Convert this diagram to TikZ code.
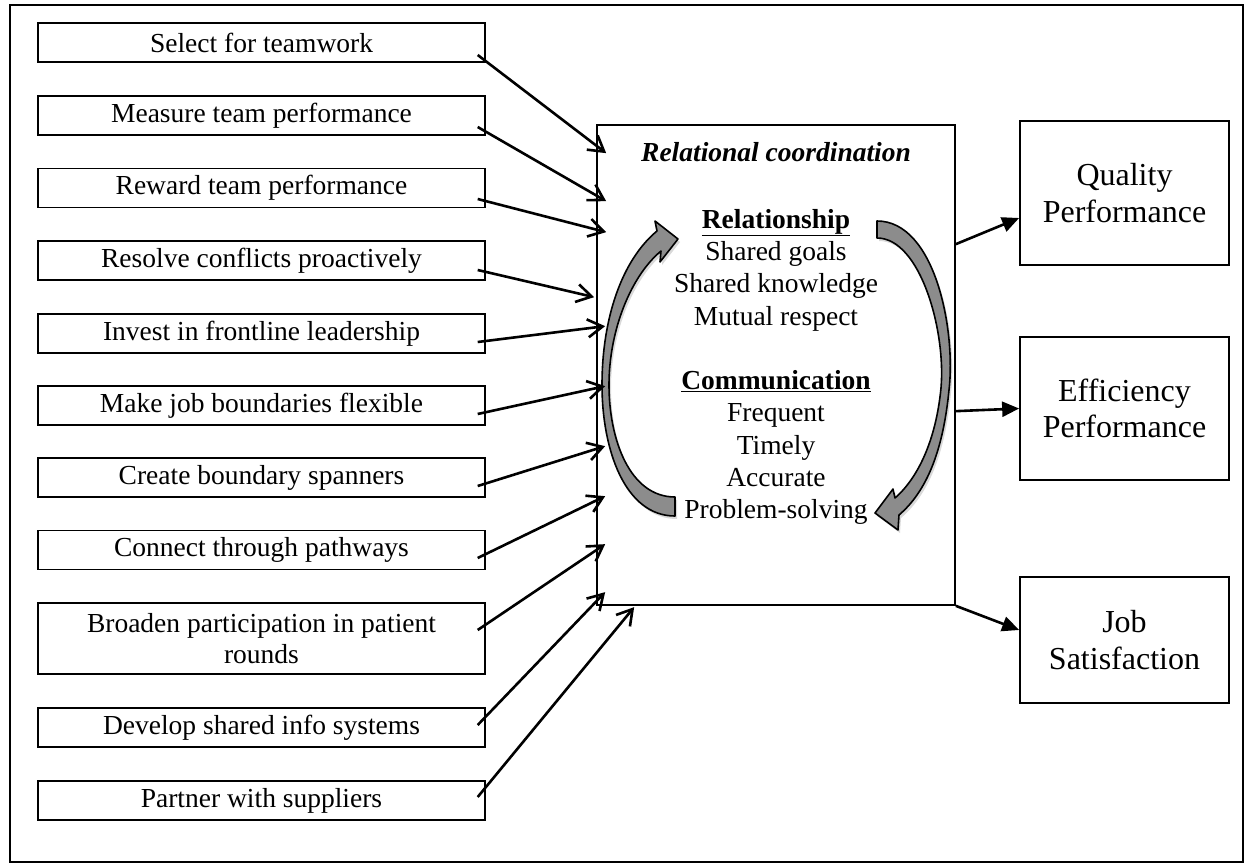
\documentclass[tikz,border=0pt]{standalone}
\usepackage{fontspec}
\setmainfont{Liberation Serif}
\usetikzlibrary{arrows.meta,shadows}

\definecolor{bandgray}{RGB}{140,140,140}

\tikzset{
  lever/.style={draw, line width=1.4pt, minimum width=447pt, minimum height=39pt,
    inner sep=0pt, align=center, font=\fontsize{27.5}{31.7}\selectfont},
  outcome/.style={draw, line width=1.7pt, minimum width=209pt, inner sep=0pt,
    align=center, font=\fontsize{32}{36.7}\selectfont},
  inarrow/.style={line width=2.6pt, -{Straight Barb[length=15pt,width=18pt]}},
  outarrow/.style={line width=2.6pt, -{Triangle[length=17pt,width=15pt]}},
  band/.style={draw, line width=1.6pt, fill=bandgray, line join=round,
    drop shadow={opacity=0.3, shadow xshift=2pt, shadow yshift=-3pt}},
  rctext/.style={anchor=base, inner sep=0pt, font=\fontsize{27.5}{32.3}\selectfont}
}

\begin{document}
\begin{tikzpicture}[x=1pt,y=-1pt]
  \useasboundingbox (0,0) rectangle (1251,867);
  \draw[line width=1.8pt] (10,5) rectangle (1243,862); % frame

  % levers on the left
  \node[lever] (b1) at (261.5,42.5) {Select for teamwork};
  \node[lever] (b2) at (261.5,115.5) {Measure team performance};
  \node[lever] (b3) at (261.5,188) {Reward team performance};
  \node[lever] (b4) at (261.5,260.5) {Resolve conflicts proactively};
  \node[lever] (b5) at (261.5,333.5) {Invest in frontline leadership};
  \node[lever] (b6) at (261.5,405.5) {Make job boundaries flexible};
  \node[lever] (b7) at (261.5,477.5) {Create boundary spanners};
  \node[lever] (b8) at (261.5,550) {Connect through pathways};
  \node[lever, minimum height=71pt] (b9) at (261.5,638.5) {Broaden participation in patient\\rounds};
  \node[lever] (b10) at (261.5,727.5) {Develop shared info systems};
  \node[lever] (b11) at (261.5,800.5) {Partner with suppliers};

  % relational coordination box
  \node[draw, line width=1.7pt, minimum width=358pt, minimum height=480pt, inner sep=0pt] (rc) at (776,365) {};
  \node[rctext, font=\fontsize{27.5}{32.3}\selectfont\bfseries\itshape] (t0) at (776,161) {Relational coordination};
  \node[rctext] (t1) at (776,228) {\underline{\textbf{Relationship}}};
  \node[rctext] (t2) at (776,260) {Shared goals};
  \node[rctext] (t3) at (776,292) {Shared knowledge};
  \node[rctext] (t4) at (776,325) {Mutual respect};
  \node[rctext] (t5) at (776,389) {\underline{\textbf{Communication}}};
  \node[rctext] (t6) at (776,421) {Frequent};
  \node[rctext] (t7) at (776,454) {Timely};
  \node[rctext] (t8) at (776,486) {Accurate};
  \node[rctext] (t9) at (776,518) {Problem-solving};

  % the two curved arrows
  \draw[band] (675,516) .. controls (625,516) and (602,450) .. (602,385)
    .. controls (602,318) and (622,260) .. (657,231)
    -- (655,221) -- (678,239) -- (660,262) -- (661,251)
    .. controls (631,276) and (609,330) .. (609,385)
    .. controls (609,440) and (630,497) .. (675,497) -- cycle;
  \draw[band] (877,221) .. controls (935,221) and (956,330) .. (949,390)
    .. controls (943,452) and (926,492) .. (899,515)
    -- (898,530) -- (875,513) -- (893,489) -- (895,498)
    .. controls (918,478) and (936,440) .. (941,388)
    .. controls (946,330) and (920,238) .. (877,238) -- cycle;

  % outcomes
  \node[outcome, minimum height=144pt] (qp) at (1124.5,193) {Quality\\Performance};
  \node[outcome, minimum height=143pt] (ep) at (1124.5,408.5) {Efficiency\\Performance};
  \node[outcome, minimum height=126pt] (js) at (1124.5,640) {Job\\Satisfaction};

  % arrows in
  \foreach \i/\sy/\tx/\ty in {1/12.5/10/29, 2/11.5/10/77, 3/11/10/108, 4/9.5/-2/173,
      5/8.5/9/202, 6/8.5/9/262, 7/8.5/9/322, 8/8/9/372, 9/-8.5/9/420,
      10/-2.5/9/468, 11/-3.5/38/483}
    \draw[inarrow] ([shift={(-8,\sy)}]b\i.east) -- ([shift={(\tx,\ty)}]rc.north west);

  % arrows out
  \draw[outarrow] ([shift={(0,120)}]rc.north east) -- ([shift={(0,25)}]qp.west);
  \draw[outarrow] ([shift={(0,287)}]rc.north east) -- (ep.west);
  \draw[outarrow] (rc.south east) -- ([shift={(0,-10)}]js.west);
\end{tikzpicture}
\end{document}
